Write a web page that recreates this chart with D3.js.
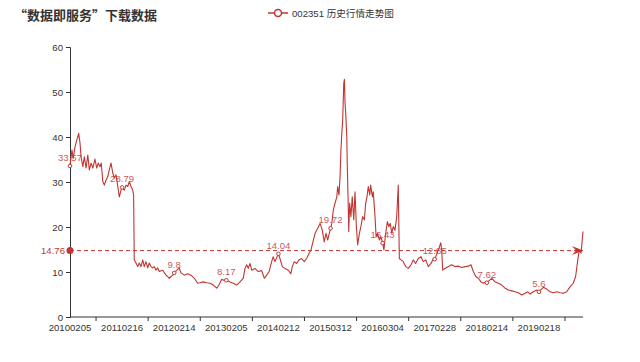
<!DOCTYPE html>
<html>
<head>
<meta charset="utf-8">
<script src="https://cdn.jsdelivr.net/npm/d3@7/dist/d3.min.js"></script>
<style>
body{margin:0;background:#fff;}
text{font-family:"Liberation Sans","Noto Sans CJK SC",sans-serif;}
</style>
</head>
<body>
<div id="chart"></div>
<script>
var titleText = '“数据即服务”下载数据';
var legendText = '002351 历史行情走势图';

// x axis labels sit every 240 trading days
var tickLabels = ['20100205','20110216','20120214','20130205','20140212','20150312','20160304','20170228','20180214','20190218'];
var labelDays = [0,240,480,720,960,1200,1440,1680,1920,2160];
var lastDay = 2363;
var yTicks = [0,10,20,30,40,50,60];
var avgClose = 14.76;

// trading-day index and close price
var days = [0,5,9,15,23,31,40,46,51,59,66,74,82,89,97,105,115,123,130,138,144,151,158,166,174,181,189,197,204,212,220,227,235,240,250,258,266,273,281,289,293,
	296,304,312,319,327,335,342,350,358,365,373,381,388,396,404,411,427,442,450,457,465,474,480,488,503,511,527,542,557,573,588,599,614,630,645,660,676,686,699,706,720,
	737,752,768,783,798,806,814,821,829,837,852,867,883,895,906,917,929,936,944,960,967,978,990,1006,1017,1024,1033,1044,1055,1067,1079,1090,1101,1110,1121,1129,1141,1152,1162,1171,1179,1187,1200,
	1206,1213,1221,1229,1233,1239,1244,1248,1252,1256,1261,1264,1267,1270,1275,1277,1281,1284,1288,1294,1300,1307,1313,1319,1325,1333,1340,1348,1356,1362,1368,1374,1381,1385,1393,1397,1405,1410,1417,1425,1433,1440,
	1446,1454,1462,1469,1475,1482,1489,1497,1505,1512,1517,1525,1535,1546,1558,1571,1581,1592,1604,1617,1627,1639,1650,1663,1674,1680,
	1697,1708,1712,1717,1727,1743,1758,1773,1789,1804,1820,1835,1847,1858,1869,1881,1893,1904,1915,1920,
	1943,1958,1973,1989,2004,2019,2035,2050,2065,2081,2096,2109,2119,2134,2150,2160,
	2180,2196,2211,2226,2242,2257,2272,2288,2303,2318,2329,2339,2346,2354,2363];
var closes = [33.57,35.6,37.1,35.3,37.8,39.3,40.8,38.7,35.6,33.4,35.6,33.1,36.0,32.7,34.2,33.1,35.1,33.1,34.2,33.4,34.2,30.1,29.3,30.4,31.2,32.7,34.2,32.0,30.9,31.6,29.0,26.7,28.2,28.79,28.2,29.3,29.0,30.1,29.0,28.2,27.1,
	12.7,12.0,11.2,12.0,11.2,12.7,11.2,12.3,10.9,12.0,11.2,10.9,11.2,10.4,10.9,10.1,10.4,9.3,9.0,8.6,9.0,9.3,9.8,10.2,10.9,9.8,9.3,9.6,9.3,8.6,7.5,7.6,7.8,7.6,7.5,7.1,6.4,7.1,8.4,8.2,8.17,
	7.8,7.5,7.1,7.8,8.6,10.8,11.6,10.8,11.9,10.4,10.8,10.1,10.3,8.6,9.3,10.1,12.3,13.4,12.3,14.04,13.0,11.2,10.8,10.4,9.6,11.2,12.3,11.9,12.7,13.0,12.3,13.0,14.1,14.9,17.1,18.6,19.7,20.8,19.3,16.7,18.6,17.1,19.72,
	20.8,23.8,25.3,26.7,29.0,27.1,31.2,37.1,40.8,43.8,51.9,52.8,47.5,45.3,40.1,34.2,26.0,19.0,25.3,22.3,26.7,21.6,27.8,20.1,16.0,18.6,20.1,22.3,21.6,25.3,26.7,29.0,27.1,29.3,26.7,27.8,22.3,17.8,18.6,17.1,17.8,16.43,
	14.9,18.6,21.2,20.1,20.8,18.6,20.1,19.3,22.3,29.3,13.0,12.7,12.3,11.2,10.8,11.6,12.7,11.9,13.0,13.4,12.3,12.7,11.2,11.9,13.0,12.85,
	14.9,16.5,14.9,10.4,10.8,11.2,11.6,11.2,11.3,11.0,11.2,11.3,11.6,10.1,9.0,8.6,7.8,7.5,7.8,7.62,
	8.6,7.8,7.5,7.1,6.4,6.0,5.8,5.6,5.4,4.9,5.3,5.6,5.1,5.6,6.0,5.6,
	6.6,6.2,5.6,5.4,5.6,5.4,5.3,5.6,6.7,7.5,9.0,12.7,14.9,14.2,19.0];

var red = '#c23531';
var axisColor = '#333';
var width = 640, height = 362;
var margin = {left: 70, top: 47, right: 57, bottom: 45};

var svg = d3.select('#chart').append('svg')
	.attr('width', width)
	.attr('height', height);

var x = d3.scaleLinear()
	.domain([0, lastDay])
	.range([margin.left, width - margin.right]);
var y = d3.scaleLinear()
	.domain([0, 60])
	.range([height - margin.bottom, margin.top]);

// title and legend
svg.append('text')
	.attr('x', 14)
	.attr('y', 20)
	.style('font-size', '13px')
	.style('font-weight', 'bold')
	.style('font-family', '"Noto Sans CJK SC", sans-serif')
	.attr('fill', '#333')
	.text(titleText);

var legend = svg.append('g').attr('transform', 'translate(268,13)');
legend.append('line')
	.attr('x1', 0).attr('x2', 20)
	.attr('stroke', red).attr('stroke-width', 1.5);
legend.append('circle')
	.attr('cx', 10).attr('r', 3.5)
	.attr('fill', '#fff').attr('stroke', red).attr('stroke-width', 1.5);
legend.append('text')
	.attr('x', 24).attr('y', 4)
	.style('font-size', '9.6px')
	.attr('fill', '#333')
	.text(legendText);

// y axis
var yAxis = d3.axisLeft(y).tickValues(yTicks).tickSize(4).tickPadding(3);
var gy = svg.append('g')
	.attr('transform', 'translate(' + margin.left + ',0)')
	.call(yAxis);
gy.select('.domain').attr('stroke', axisColor);
gy.selectAll('.tick line').attr('stroke', axisColor);
gy.selectAll('.tick text').attr('fill', axisColor).style('font-size', '9.6px').style('font-family', null);

// x axis: labels on label days, ticks halfway between
var gx = svg.append('g').attr('transform', 'translate(0,' + y(0) + ')');
gx.append('line')
	.attr('x1', margin.left).attr('x2', width - margin.right)
	.attr('stroke', axisColor);
gx.selectAll('.xtick')
	.data(labelDays)
	.enter()
	.append('line')
	.attr('class', 'xtick')
	.attr('x1', function(d){ return x(d + 120); })
	.attr('x2', function(d){ return x(d + 120); })
	.attr('y1', 0).attr('y2', 4)
	.attr('stroke', axisColor);
gx.selectAll('.xlabel')
	.data(labelDays)
	.enter()
	.append('text')
	.attr('class', 'xlabel')
	.attr('x', function(d){ return x(d); })
	.attr('y', 14)
	.attr('text-anchor', 'middle')
	.style('font-size', '9.6px')
	.attr('fill', axisColor)
	.text(function(d, i){ return tickLabels[i]; });

// price line
var points = days.map(function(d, i){ return [d, closes[i]]; });
var line = d3.line()
	.x(function(d){ return x(d[0]); })
	.y(function(d){ return y(d[1]); });
svg.append('path')
	.datum(points)
	.attr('d', line)
	.attr('fill', 'none')
	.attr('stroke', red)
	.attr('stroke-width', 1.1)
	.attr('stroke-linejoin', 'round');

// average mark line
var yAvg = y(avgClose);
svg.append('line')
	.attr('x1', x(0)).attr('x2', x(lastDay))
	.attr('y1', yAvg).attr('y2', yAvg)
	.attr('stroke', red)
	.attr('stroke-width', 1)
	.attr('stroke-dasharray', '4,3');
svg.append('circle')
	.attr('cx', x(0)).attr('cy', yAvg).attr('r', 3.5)
	.attr('fill', red);
var ax = x(lastDay);
svg.append('path')
	.attr('d', 'M' + ax + ',' + yAvg + 'L' + (ax - 11) + ',' + (yAvg - 4.5) + 'L' + (ax - 7) + ',' + yAvg + 'L' + (ax - 11) + ',' + (yAvg + 4.5) + 'Z')
	.attr('fill', red);
svg.append('text')
	.attr('x', x(0) - 5)
	.attr('y', yAvg + 3.5)
	.attr('text-anchor', 'end')
	.style('font-size', '9.6px')
	.attr('fill', red)
	.text(avgClose);

// symbols and labels on the labelled days
var marked = points.filter(function(d){ return labelDays.indexOf(d[0]) >= 0; });
svg.selectAll('.sym')
	.data(marked)
	.enter()
	.append('circle')
	.attr('class', 'sym')
	.attr('cx', function(d){ return x(d[0]); })
	.attr('cy', function(d){ return y(d[1]); })
	.attr('r', 1.8)
	.attr('fill', '#fff')
	.attr('stroke', red)
	.attr('stroke-width', 1);
svg.selectAll('.vlabel')
	.data(marked)
	.enter()
	.append('text')
	.attr('class', 'vlabel')
	.attr('x', function(d){ return x(d[0]); })
	.attr('y', function(d){ return y(d[1]) - 5; })
	.attr('text-anchor', 'middle')
	.style('font-size', '9.6px')
	.attr('fill', red)
	.attr('fill-opacity', 0.85)
	.text(function(d){ return d[1]; });
</script>
</body>
</html>
